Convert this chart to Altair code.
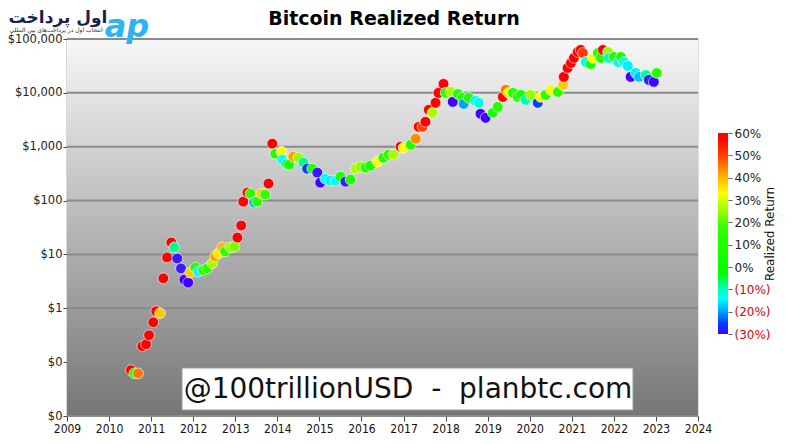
import altair as alt
import pandas as pd

# ---------------- data ----------------
years = [2010.52, 2010.60, 2010.69, 2010.79, 2010.88, 2010.95, 2011.05, 2011.12, 2011.21, 2011.29,
         2011.38, 2011.48, 2011.55, 2011.62, 2011.71, 2011.79, 2011.88, 2011.93, 2012.05, 2012.12,
         2012.24, 2012.33, 2012.45, 2012.52, 2012.60, 2012.69, 2012.76, 2012.88, 2012.98, 2013.05,
         2013.14, 2013.19, 2013.29, 2013.36, 2013.45, 2013.52, 2013.62, 2013.71, 2013.79, 2013.88,
         2013.95, 2014.10, 2014.12, 2014.22, 2014.28, 2014.38, 2014.50, 2014.62, 2014.71, 2014.83,
         2014.95, 2015.02, 2015.14, 2015.26, 2015.38, 2015.50, 2015.62, 2015.74, 2015.86, 2015.98,
         2016.10, 2016.21, 2016.38, 2016.52, 2016.64, 2016.76, 2016.93, 2017.00, 2017.17, 2017.29,
         2017.36, 2017.45, 2017.52, 2017.60, 2017.69, 2017.76, 2017.83, 2017.95, 2018.00, 2018.12,
         2018.17, 2018.29, 2018.40, 2018.43, 2018.55, 2018.71, 2018.79, 2018.83, 2018.95, 2019.12,
         2019.24, 2019.36, 2019.43, 2019.50, 2019.60, 2019.71, 2019.79, 2019.90, 2020.02, 2020.19,
         2020.26, 2020.38, 2020.50, 2020.67, 2020.79, 2020.81, 2020.90, 2020.98, 2021.05, 2021.14,
         2021.21, 2021.26, 2021.33, 2021.45, 2021.50, 2021.62, 2021.69, 2021.74, 2021.86, 2021.88,
         2022.00, 2022.10, 2022.17, 2022.24, 2022.33, 2022.40, 2022.52, 2022.60, 2022.76, 2022.83,
         2022.95, 2023.02]

prices = [0.071, 0.062, 0.062, 0.198, 0.215, 0.316, 0.55, 0.88, 0.81, 3.6,
          8.8, 16.7, 13.5, 8.4, 5.5, 3.4, 3.0, 4.6, 5.7, 4.8,
          5.1, 5.5, 6.8, 9.2, 10.4, 13.5, 11.4, 13.5, 14.0, 20.6,
          34.4, 95.7, 141, 135, 92, 96, 135, 129, 207, 1137,
          741, 807, 574, 480, 464, 653, 625, 506, 391, 391,
          330, 215, 255, 234, 234, 278, 225, 245, 391, 427,
          409, 445, 528, 625, 711, 711, 1000, 958, 1089, 1407,
          2344, 2344, 2903, 4842, 4266, 6538, 10000, 14678, 10000, 10440,
          6813, 9580, 8072, 6253, 8072, 7115, 6538, 4084, 3443, 4266,
          5510, 8433, 11365, 10000, 10000, 8433, 9190, 7420, 9190, 6538,
          8433, 9190, 11365, 10440, 14060, 19770, 29040, 35940, 44460, 57400,
          62540, 55080, 37500, 34440, 44460, 55080, 44460, 62540, 57400, 44460,
          46420, 37500, 46420, 37500, 31620, 19770, 23440, 19770, 21540, 17420,
          16000, 23440]

returns = [0.60, 0.10, 0.46, 0.60, 0.60, 0.60, 0.60, 0.60, 0.38, 0.60,
           0.60, 0.60, -0.08, -0.29, -0.29, -0.30, -0.30, 0.38, 0.08, -0.14,
           0.06, 0.10, 0.26, 0.42, 0.35, 0.40, 0.12, 0.24, 0.22, 0.60,
           0.60, 0.60, 0.60, 0.14, -0.19, 0.08, 0.38, 0.16, 0.60, 0.60,
           0.10, 0.32, -0.14, -0.07, 0.02, 0.42, 0.24, -0.08, -0.26, 0.08,
           -0.29, -0.30, -0.14, -0.15, -0.14, 0.06, -0.29, 0.04, 0.26, 0.24,
           0.10, 0.04, 0.33, 0.08, 0.12, 0.26, 0.58, 0.33, 0.10, 0.44,
           0.60, 0.50, 0.60, 0.60, 0.26, 0.60, 0.60, 0.60, 0.10, 0.26,
           -0.30, 0.10, 0.04, -0.20, 0.04, -0.12, -0.12, -0.30, -0.30, 0.04,
           0.08, 0.60, 0.46, 0.34, 0.10, 0.08, 0.04, -0.10, 0.24, -0.25,
           0.32, 0.10, 0.32, 0.10, 0.38, 0.60, 0.60, 0.60, 0.60, 0.60,
           0.60, 0.52, -0.12, 0.00, 0.33, 0.10, 0.06, 0.60, 0.24, -0.10,
           0.04, -0.12, 0.04, -0.12, -0.15, -0.30, -0.15, -0.18, -0.08, -0.28,
           -0.30, 0.10]

year_ticks = list(range(2009, 2025))
price_ticks = [0.01, 0.1, 1, 10, 100, 1000, 10000, 100000]
return_ticks = [-0.3, -0.2, -0.1, 0.0, 0.1, 0.2, 0.3, 0.4, 0.5, 0.6]

ret_domain = [-0.30, -0.25, -0.20, -0.14, -0.08, -0.03, 0.18, 0.27, 0.33, 0.42, 0.50, 0.58, 0.60]
ret_colors = ["#4000ff", "#0040ff", "#00a0ff", "#00ffff", "#00ff90", "#00ff00", "#33ff00",
              "#b0ff00", "#ffff00", "#ffa000", "#ff4000", "#ff0000", "#ff0000"]

df = pd.DataFrame({"year": years, "price": prices, "ret": returns})
grid_df = pd.DataFrame({"price": price_ticks})

W, H = 631, 377
FONT = "DejaVu Sans"

# ---------------- main panel ----------------
bg = alt.Chart(alt.Data(values=[{}])).mark_rect(
    fill={"gradient": "linear", "x1": 0, "y1": 0, "x2": 0, "y2": 1,
          "stops": [{"offset": 0, "color": "#f7f7f7"}, {"offset": 1, "color": "#767676"}]}
).encode(x=alt.value(0), x2=alt.value(W), y=alt.value(0), y2=alt.value(H))

yscale = alt.Scale(type="log", domain=[0.01, 100000], nice=False)
xscale = alt.Scale(domain=[2009, 2024], nice=False, zero=False)

y_axis = alt.Axis(values=price_ticks, title=None, grid=False,
                  labelExpr="datum.value < 1 ? '$0' : '$' + format(datum.value, ',')",
                  labelFontSize=11.5, labelColor="#222", tickColor="#444", tickSize=4,
                  labelPadding=1, domainColor="#666", domainWidth=1.5, orient="left")

grid = alt.Chart(grid_df).mark_rule(color="#8a8a8a", strokeWidth=2).encode(
    y=alt.Y("price:Q", scale=yscale, axis=y_axis)
)

pts = alt.Chart(df).mark_circle(size=115, opacity=1, stroke="white", strokeWidth=0.6).encode(
    x=alt.X("year:Q", scale=xscale,
            axis=alt.Axis(values=year_ticks, format="d", title=None, grid=False,
                          labelFont="DejaVu Sans Condensed", labelFontSize=12, labelColor="#111",
                          tickColor="#444", tickSize=5, domainColor="#777", labelFlush=False)),
    y=alt.Y("price:Q", scale=yscale, axis=y_axis),
    color=alt.Color("ret:Q", scale=alt.Scale(domain=ret_domain, range=ret_colors, clamp=True),
                    legend=None),
)

main = alt.layer(bg, grid, pts)

# watermark
wm_box = alt.Chart(alt.Data(values=[{}])).mark_rect(
    fill="white", stroke="#9a9a9a", strokeWidth=1
).encode(x=alt.value(115), x2=alt.value(566), y=alt.value(329), y2=alt.value(371))
wm_text = alt.Chart(alt.Data(values=[{}])).mark_text(
    text="@100trillionUSD\u00a0\u00a0-\u00a0\u00a0planbtc.com", fontSize=28, font=FONT,
    color="#111", align="center", baseline="middle"
).encode(x=alt.value(341), y=alt.value(351))

# title
title = alt.Chart(alt.Data(values=[{}])).mark_text(
    text="Bitcoin Realized Return", fontSize=19, fontWeight="bold", font=FONT,
    color="#000", align="center", baseline="middle"
).encode(x=alt.value(327), y=alt.value(-20))

# logo (text)
logo_main = alt.Chart(alt.Data(values=[{}])).mark_text(
    text="اول پرداخت", fontSize=17, fontWeight="bold", font=FONT,
    color="#1b1f4f", align="center", baseline="middle"
).encode(x=alt.value(-9), y=alt.value(-21))
logo_sub = alt.Chart(alt.Data(values=[{}])).mark_text(
    text="انتخاب اول در پرداخت‌های بین المللی", fontSize=6, font=FONT,
    color="#1b1f4f", align="center", baseline="middle"
).encode(x=alt.value(-11), y=alt.value(-9))
logo_mark = alt.Chart(alt.Data(values=[{}])).mark_text(
    text="ap", fontSize=32, fontWeight="bold", fontStyle="italic", font=FONT,
    color="#2bb3f3", align="center", baseline="middle"
).encode(x=alt.value(60), y=alt.value(-12))

# ---------------- colour bar ----------------
cb_stops = [{"offset": (d + 0.3) / 0.9, "color": c} for d, c in zip(ret_domain, ret_colors)]
cbar = alt.Chart(alt.Data(values=[{"lo": -0.3, "hi": 0.6}])).mark_rect(
    fill={"gradient": "linear", "x1": 0, "y1": 1, "x2": 0, "y2": 0, "stops": cb_stops}
).encode(
    x=alt.value(W + 20), x2=alt.value(W + 30),
    y=alt.Y("lo:Q", scale=alt.Scale(domain=[-0.3, 0.6], range=[295, 94], nice=False, zero=False),
            axis=alt.Axis(orient="right", offset=30, values=return_ticks, grid=False, domain=False,
                          labelExpr="datum.value < -0.001 ? '(' + format(-datum.value, '.0%') + ')' : format(datum.value, '.0%')",
                          labelColor={"condition": {"test": "datum.value < -0.001", "value": "#e00000"},
                                      "value": "#222222"},
                          labelFontSize=12, tickColor="#666", tickSize=4, labelPadding=2,
                          title="Realized Return", titleAngle=270, titleFontSize=12,
                          titleFontWeight="normal", titleColor="#111", titlePadding=6)),
    y2="hi:Q",
)

chart = alt.layer(
    main, wm_box, wm_text, cbar, title, logo_main, logo_sub, logo_mark
).resolve_scale(y="independent").properties(
    width=W, height=H,
    padding={"left": 59, "top": 31, "right": 87, "bottom": 20},
    autosize=alt.AutoSizeParams(type="none"),
    background="white",
).configure_view(stroke="#8a8a8a", strokeWidth=1).configure(font=FONT)

chart.save("out.html", embed_options={"renderer": "svg", "actions": False})
